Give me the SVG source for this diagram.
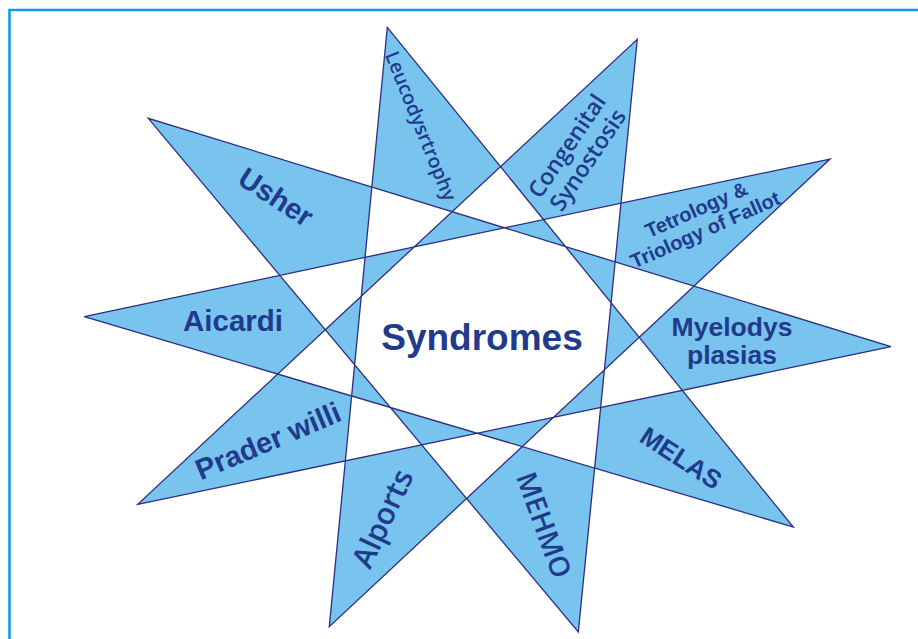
<svg xmlns="http://www.w3.org/2000/svg" width="918" height="639" viewBox="0 0 918 639">
<style>
.frame{fill:none;stroke:#129BE0;stroke-width:2.6}
.star{fill:#78C4EE;fill-rule:evenodd;stroke:#2B2D7F;stroke-width:1.3;stroke-linejoin:miter}
.a{font-family:"Liberation Sans",Arial,sans-serif;font-weight:bold;fill:#213A8C;text-anchor:middle}
.m{font-family:"Open Sans","Noto Sans",sans-serif;font-weight:600;fill:#213A8C;text-anchor:middle}
</style>
<rect width="918" height="639" fill="#fff"/>
<path class="frame" d="M9.5,639 V10 H918"/>
<g id="star">
<path class="star" d="M387.3,27.3 L793.3,527 L84.3,316.7 L830,159 L329.3,626.7 Z M637.3,39.3 L578.3,632 L148.3,118.3 L891,346.7 L137.7,504.3 Z"/>
</g>
<g id="center"><text class="a" x="482" y="350" font-size="37">Syndromes</text></g>
<g id="leucodysrtrophy"><text class="m" font-size="19.5" font-weight="500" transform="translate(421,126) rotate(68)" y="7">Leucodysrtrophy</text></g>
<g id="congenital"><g transform="translate(567,146) rotate(-56)"><text class="m" font-size="23" y="8">Congenital</text><text class="m" font-size="23" y="33">Synostosis</text></g></g>
<g id="tetrology"><g transform="translate(699,216) rotate(-24)"><text class="a" font-size="20" y="0">Tetrology &amp;</text><text class="a" font-size="20" y="22">Triology of Fallot</text></g></g>
<g id="myelodys"><text class="a" font-size="26.5" x="732" y="336">Myelodys</text><text class="a" font-size="26.5" x="732" y="364">plasias</text></g>
<g id="melas"><text class="a" font-size="26" transform="translate(681,458) rotate(33)" y="9">MELAS</text></g>
<g id="mehmo"><text class="m" font-size="28" transform="translate(544,525) rotate(70)" y="10">MEHMO</text></g>
<g id="alports"><text class="m" font-size="30" transform="translate(384,519) rotate(-65)" y="9">Alports</text></g>
<g id="prader"><text class="a" font-size="29" transform="translate(268,441) rotate(-23)" y="10">Prader willi</text></g>
<g id="aicardi"><text class="a" font-size="29.5" x="233" y="331">Aicardi</text></g>
<g id="usher"><text class="a" font-size="29" transform="translate(276,197) rotate(33)" y="10">Usher</text></g>
</svg>
